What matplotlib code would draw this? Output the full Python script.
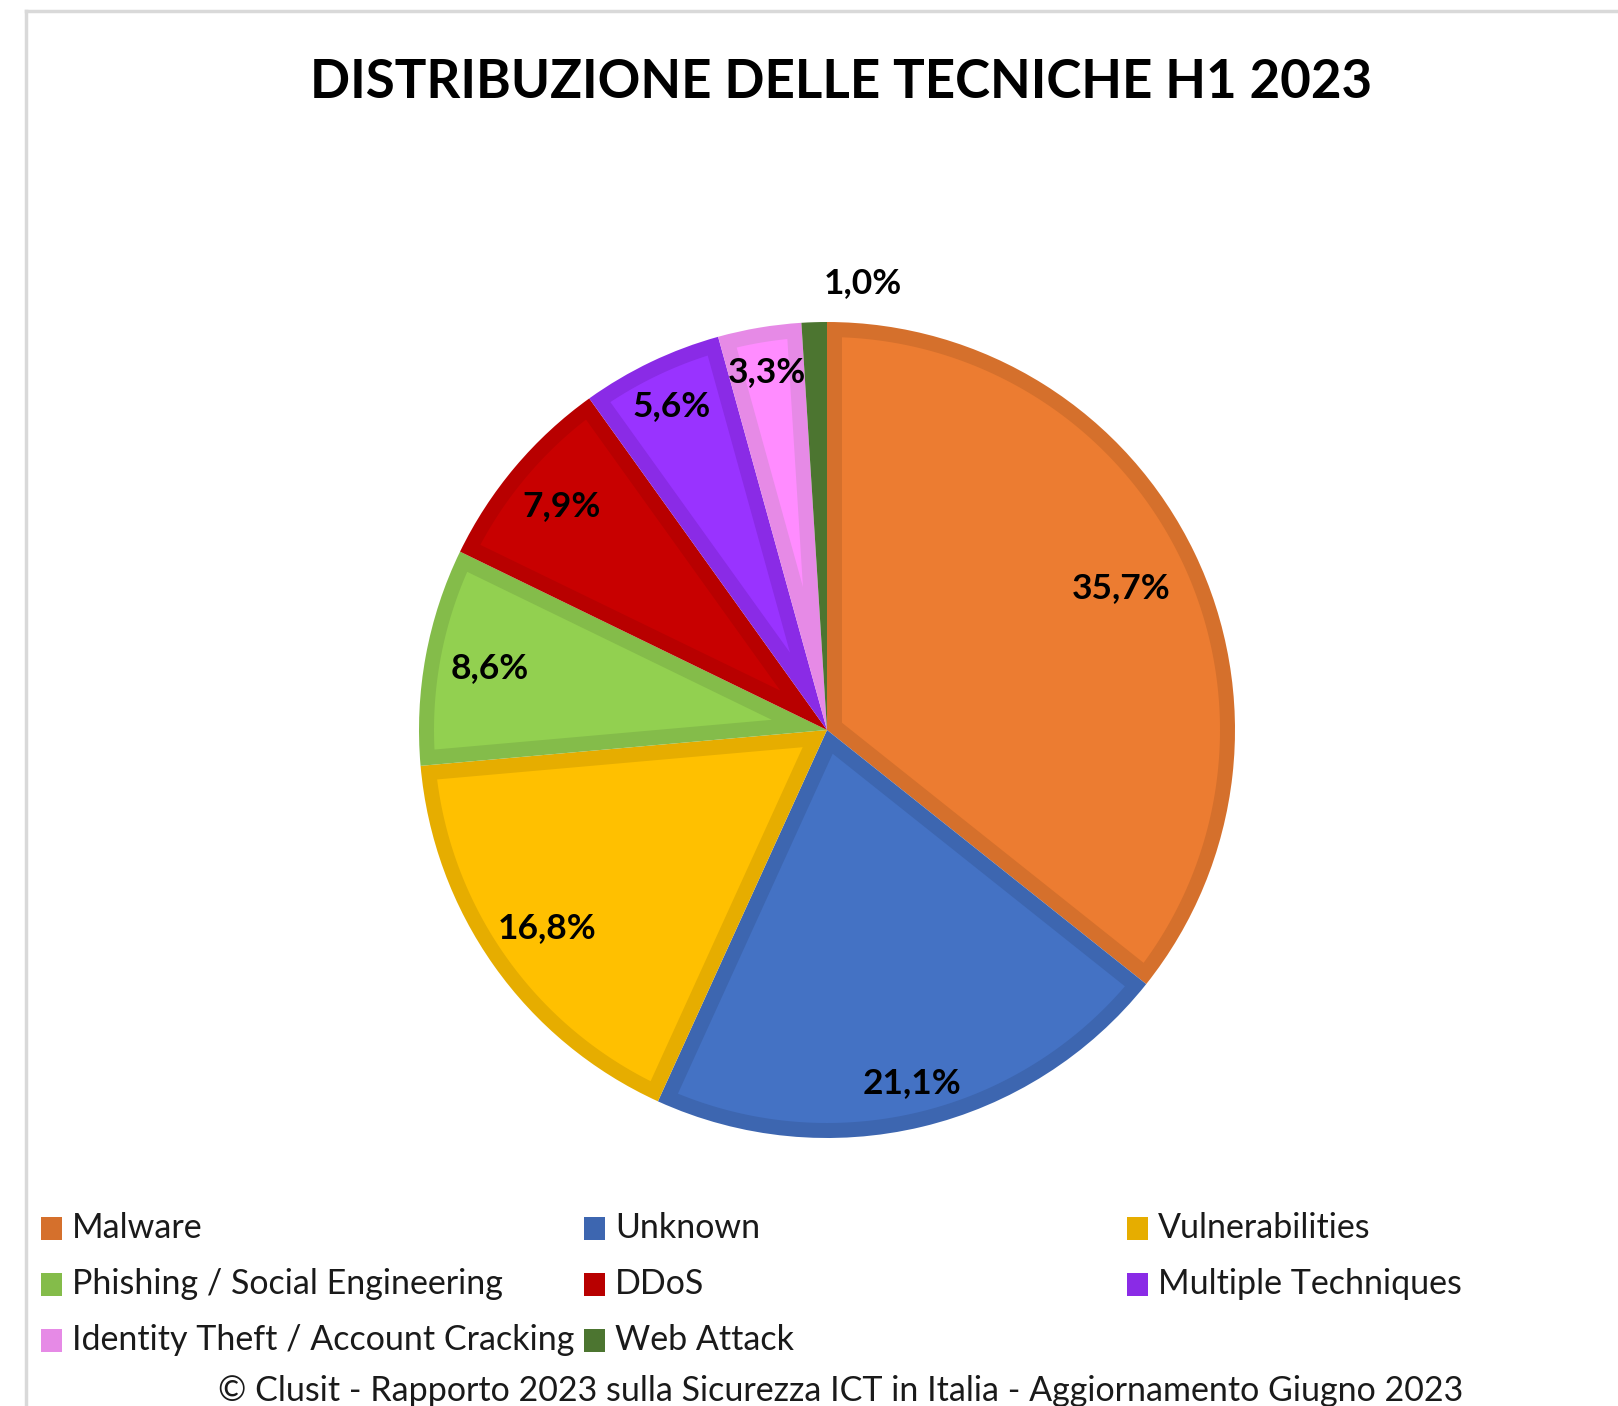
import matplotlib
matplotlib.use("Agg")
import matplotlib.pyplot as plt
import numpy as np
from matplotlib.patches import Rectangle, Polygon
from matplotlib.lines import Line2D

categories = ["Malware", "Unknown", "Vulnerabilities", "Phishing / Social Engineering",
              "DDoS", "Multiple Techniques", "Identity Theft / Account Cracking", "Web Attack"]
values = [35.7, 21.1, 16.8, 8.6, 7.9, 5.6, 3.3, 1.0]
pct_labels = ["35,7%", "21,1%", "16,8%", "8,6%", "7,9%", "5,6%", "3,3%", "1,0%"]
title = "DISTRIBUZIONE DELLE TECNICHE H1 2023"
footer = "\u00a9 Clusit - Rapporto 2023 sulla Sicurezza ICT in Italia - Aggiornamento Giugno 2023"

fills = ["#EC7C31", "#4472C4", "#FFC000", "#92D050", "#C80000", "#9933FF", "#FF8CFF", "#548235"]
edges = ["#D5702C", "#3D66B0", "#E6AD00", "#84BC4A", "#B80000", "#8A2BE6", "#E68AE6", "#4C7530"]

W, H = 1618, 1406
fig = plt.figure(figsize=(W / 100, H / 100), dpi=100)
fig.patch.set_facecolor("white")
plt.rcParams["font.family"] = ["Lato", "DejaVu Sans"]

# frame lines (left and top)
fig.add_artist(Line2D([26 / W, 26 / W], [0, 1 - 11 / H], color="#D9D9D9", lw=2.5, transform=fig.transFigure))
fig.add_artist(Line2D([26 / W, 1], [1 - 11 / H, 1 - 11 / H], color="#D9D9D9", lw=2.5, transform=fig.transFigure))

cx, cy, R = 827, 730, 408
ax = fig.add_axes([(cx - R) / W, (H - cy - R) / H, 2 * R / W, 2 * R / H])
# full wedges drawn in the border colour
wedges, _ = ax.pie(values, colors=edges, startangle=90, counterclock=False,
                   wedgeprops=dict(linewidth=0))
ax.set_xlim(-1, 1)
ax.set_ylim(-1, 1)
ax.set_aspect("equal")
ax.axis("off")

# inset region of each wedge in the fill colour (border ~15 px)
d = 15.0 / R
rho = 1 - d
for w, fc in zip(wedges, fills):
    t1, t2 = np.deg2rad(w.theta1), np.deg2rad(w.theta2)
    a = (t2 - t1) / 2
    if a <= 0:
        continue
    mid = (t1 + t2) / 2
    apex_r = d / np.sin(a)
    if apex_r >= rho * 0.98:
        continue
    A = apex_r * np.array([np.cos(mid), np.sin(mid)])
    pts_side = []
    for t in (t1, t2):
        u = np.array([np.cos(t), np.sin(t)])
        b = np.dot(A, u)
        c = np.dot(A, A) - rho ** 2
        s = -b + np.sqrt(b * b - c)
        pts_side.append(A + s * u)
    p1, p2 = pts_side
    ph1 = np.arctan2(p1[1], p1[0])
    ph2 = np.arctan2(p2[1], p2[0])
    while ph2 < ph1:
        ph2 += 2 * np.pi
    arc = np.linspace(ph1, ph2, 200)
    poly = [A, p1] + [rho * np.array([np.cos(p), np.sin(p)]) for p in arc] + [p2]
    ax.add_patch(Polygon(poly, closed=True, facecolor=fc, edgecolor="none", lw=0))

label_r = [0.80, 0.89, 0.84, 0.84, 0.85, 0.88, 0.89, 1.10]
angle_shift = [0, 0, 0, 0, 0, 0, 0, -6.4]
for w, lab, r, sh in zip(wedges, pct_labels, label_r, angle_shift):
    th = np.deg2rad((w.theta1 + w.theta2) / 2 + sh)
    ax.text(r * np.cos(th), r * np.sin(th), lab, ha="center", va="center",
            fontsize=25.5, fontweight="bold", color="black", clip_on=False)

renderer = fig.canvas.get_renderer()

def fit(t, target_w):
    bb = t.get_window_extent(renderer)
    t.set_fontsize(t.get_fontsize() * target_w / bb.width)

tt = fig.text(841 / W, 1 - 82 / H, title, ha="center", va="center", fontsize=38,
              fontweight="bold", color="black")
fit(tt, 1062)

# legend (row-wise, 3 columns)
col_x = [41, 584, 1127]
row_y = [1228, 1284, 1340]
legend_fs = 26
probe = fig.text(0, 0, categories[3], fontsize=legend_fs)
bb = probe.get_window_extent(renderer)
legend_fs = legend_fs * 431 / bb.width
probe.remove()
for i, (cat, fc) in enumerate(zip(categories, edges)):
    r, c = divmod(i, 3)
    x0, y0 = col_x[c], row_y[r]
    fig.add_artist(Rectangle((x0 / W, 1 - (y0 + 12) / H), 21 / W, 23 / H,
                             facecolor=fc, edgecolor="none", lw=0, transform=fig.transFigure))
    fig.text((x0 + 31) / W, 1 - y0 / H, cat, ha="left", va="center", fontsize=legend_fs,
             color="#1a1a1a")

ft = fig.text(841 / W, 1 - 1391 / H, footer, ha="center", va="center", fontsize=26, color="#1a1a1a")
fit(ft, 1243)

fig.savefig("out.png", dpi=100, facecolor="white")
